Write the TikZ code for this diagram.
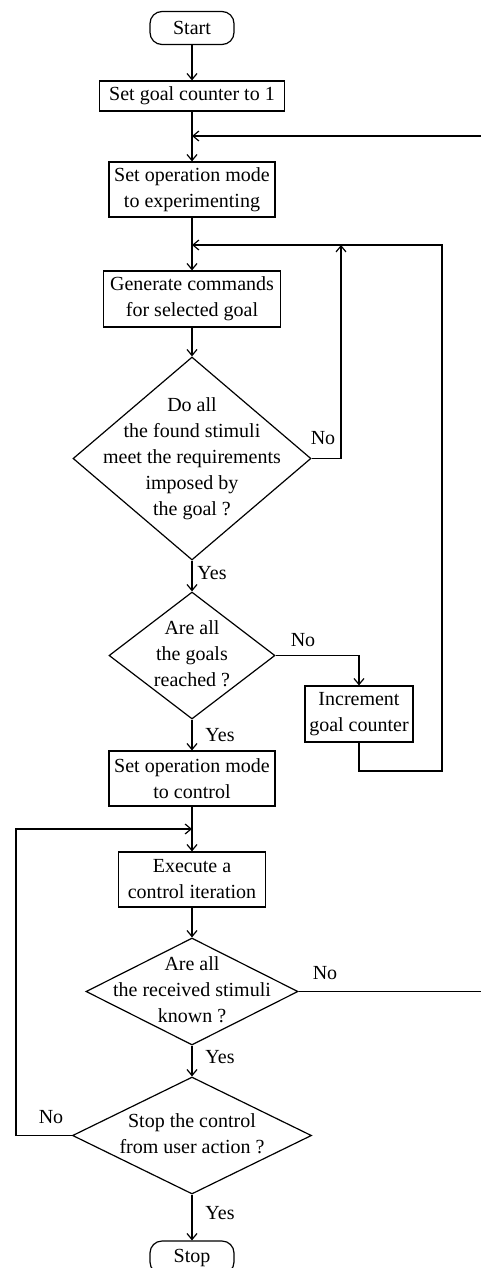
\documentclass[tikz,border=0pt]{standalone}
\usepackage{fontspec}
\setmainfont{Liberation Serif}
\usetikzlibrary{shapes.geometric,arrows.meta}
\newcommand*{\dtext}[1]{\makebox[0pt]{\raisebox{-.5ex}[0pt][0pt]{\begin{tabular}{@{}c@{}}#1\end{tabular}}}}

\tikzset{
  process/.style={draw, rectangle, align=center, inner sep=1pt},
  terminal/.style={draw, rectangle, rounded corners=6pt, minimum width=42pt, minimum height=16.5pt, inner sep=1pt},
  decision/.style={draw, diamond, inner sep=0pt},
  flow/.style={-{Straight Barb[length=3pt,width=5pt]}},
  lbl/.style={inner sep=0pt},
  every node/.style={font=\fontsize{10}{13}\selectfont},
}

\begin{document}
\begin{tikzpicture}[x=0.5pt, y=-0.5pt, line width=0.6pt]
\useasboundingbox (0,0) rectangle (481,1268);

\node (start) [terminal] at (192,28) {Start};
\node (setgoal) [process, minimum width=92.5pt, minimum height=15pt] at (192,96) {Set goal counter to 1};
\node (expmode) [process, minimum width=83pt, minimum height=27.5pt] at (192,189.5) {Set operation mode\\to experimenting};
\node (gencmd) [process, minimum width=88.5pt, minimum height=28pt] at (192,299) {Generate commands\\for selected goal};
\node (d1) [decision, minimum width=119pt, minimum height=101.5pt] at (192,458.5) {\dtext{Do all\\the found stimuli\\meet the requirements\\imposed by\\the goal ?}};
\node (d2) [decision, minimum width=83pt, minimum height=63.5pt] at (192,655.5) {\dtext{Are all\\the goals\\reached ?}};
\node (incr) [process, minimum width=54pt, minimum height=28pt] at (359,714) {Increment\\goal counter};
\node (ctlmode) [process, minimum width=83pt, minimum height=27.5pt] at (192,778.5) {Set operation mode\\to control};
\node (exec) [process, minimum width=73.5pt, minimum height=27.5pt] at (192,879.5) {Execute a\\control iteration};
\node (d3) [decision, minimum width=106pt, minimum height=53.5pt] at (192,991.5) {\dtext{Are all\\the received stimuli\\known ?}};
\node (d4) [decision, minimum width=119.5pt, minimum height=58.5pt] at (192,1135.5) {\dtext{Stop the control\\from user action ?}};
\node (stop) [terminal] at (192,1257.5) {Stop};

% branch labels
\node (no1) [lbl] at (323,438) {No};
\node (yes1) [lbl] at (212,573) {Yes};
\node (no2) [lbl] at (303,640) {No};
\node (yes2) [lbl] at (220,735) {Yes};
\node (no3) [lbl] at (325,973) {No};
\node (yes3) [lbl] at (220,1057) {Yes};
\node (no4) [lbl] at (51,1117) {No};
\node (yes4) [lbl] at (220,1213) {Yes};

% junctions and corners
\coordinate (m1) at (192,136);
\coordinate (m2) at (192,245);
\coordinate (m3) at (192,829);
\coordinate (c1) at (341,245);
\coordinate (c2) at (442,245);
\coordinate (c3) at (442,771);
\coordinate (c4) at (484,136);
\coordinate (c5) at (16,829);

\draw[flow] (start) -- (setgoal);
\draw[flow] (setgoal) -- (expmode);
\draw[flow] (expmode) -- (gencmd);
\draw[flow] (gencmd) -- (d1);
\draw[flow] (d1) -- (d2);
\draw[flow] (d1.east) -| (c1);
\draw[flow] (d2.east) -| (incr.north);
\draw[flow] (incr.south) |- (c3) -- (c2) -- (m2);
\draw[flow] (d2) -- (ctlmode);
\draw[flow] (ctlmode) -- (exec);
\draw[flow] (exec) -- (d3);
\draw[flow] (d3.east) -| (c4) -- (m1);
\draw[flow] (d3) -- (d4);
\draw[flow] (d4.west) -| (c5) -- (m3);
\draw[flow] (d4) -- (stop);
\end{tikzpicture}
\end{document}
